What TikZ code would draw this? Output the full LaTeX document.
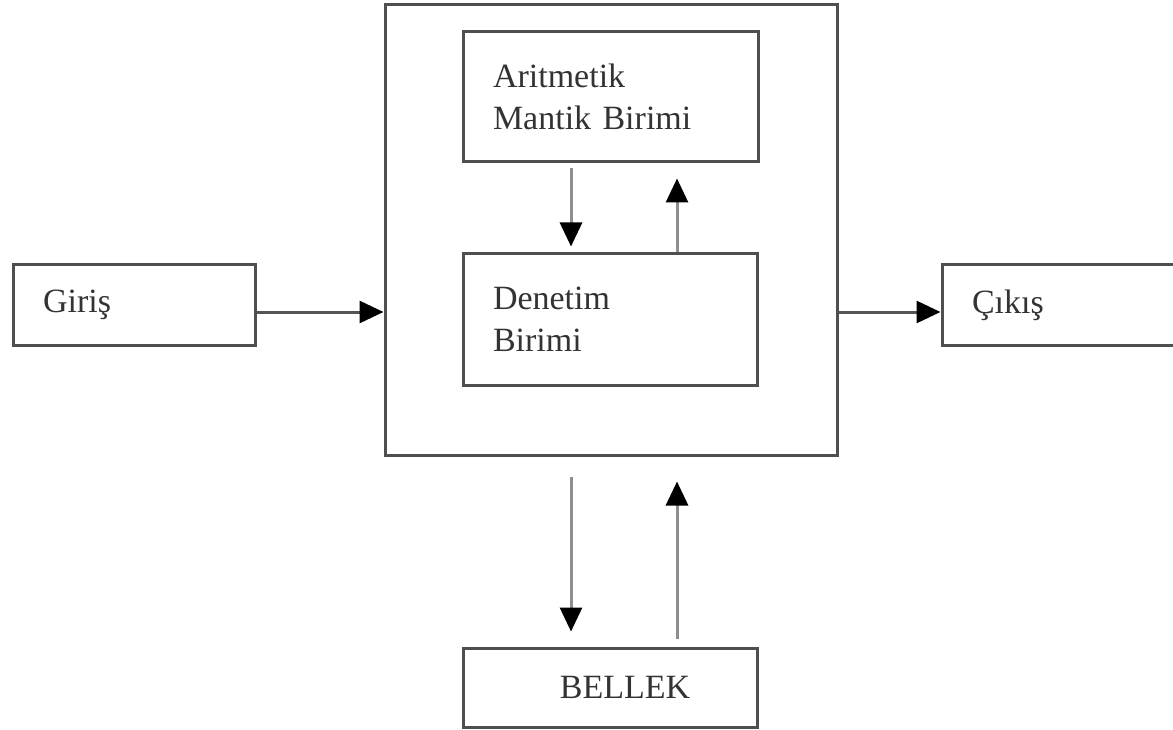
\documentclass[tikz,border=0pt]{standalone}
\usepackage{fontspec}
\setmainfont{Liberation Serif}
\usetikzlibrary{arrows.meta}
\definecolor{boxc}{HTML}{4F4F4F}
\definecolor{arrc}{HTML}{8E8E8E}
\definecolor{harrc}{HTML}{555555}
\definecolor{txtc}{HTML}{333333}
\begin{document}
\begin{tikzpicture}[x=1pt,y=-1pt,
  box/.style={draw=boxc, line width=3pt, rectangle, inner xsep=30pt, inner ysep=0pt,
    align=left, font=\fontsize{34}{42}\selectfont, text=txtc},
  arr/.style={draw=arrc, line width=3pt, -{Triangle[length=24pt,width=22pt,color=black]}},
  harr/.style={arr, draw=harrc}]
\useasboundingbox[fill=white] (0,0) rectangle (1173,730);
\node[box, minimum width=452pt, minimum height=450pt] (cpu) at (611,230) {};
\node[box, minimum width=295pt, minimum height=130pt, text width=235pt] (alu) at (610.5,97) {Aritmetik\\Mantik Birimi};
\node[box, minimum width=294pt, minimum height=131pt, text width=234pt] (den) at (610,319.5) {Denetim\\Birimi};
\node[box, minimum width=242pt, minimum height=80pt, text width=182pt] (gir) at (134,305) {Giriş};
\node[box, minimum width=240pt, minimum height=80pt, text width=180pt] (cik) at (1062,305) {Çıkış};
\node[box, minimum width=294pt, minimum height=79pt, align=center] (bel) at (610,687.5) {\hspace*{30pt}BELLEK};
\draw[harr] ([yshift=-7pt]gir.east) -- ([yshift=-7pt]gir.east -| cpu.west);
\draw[harr] ([yshift=-7pt]cik.west -| cpu.east) -- ([yshift=-7pt]cik.west);
\draw[arr, shorten <=5pt, shorten >=6pt] ([xshift=-39.5pt]alu.south) -- ([xshift=-39pt]den.north);
\draw[arr, shorten >=15pt] ([xshift=67pt]den.north) -- ([xshift=66.5pt]alu.south);
\draw[arr, shorten <=20pt, shorten >=15pt] ([xshift=-40pt]cpu.south) -- ([xshift=-39pt]bel.north);
\draw[arr, shorten <=8pt, shorten >=25pt] ([xshift=67pt]bel.north) -- ([xshift=66pt]cpu.south);
\end{tikzpicture}
\end{document}
